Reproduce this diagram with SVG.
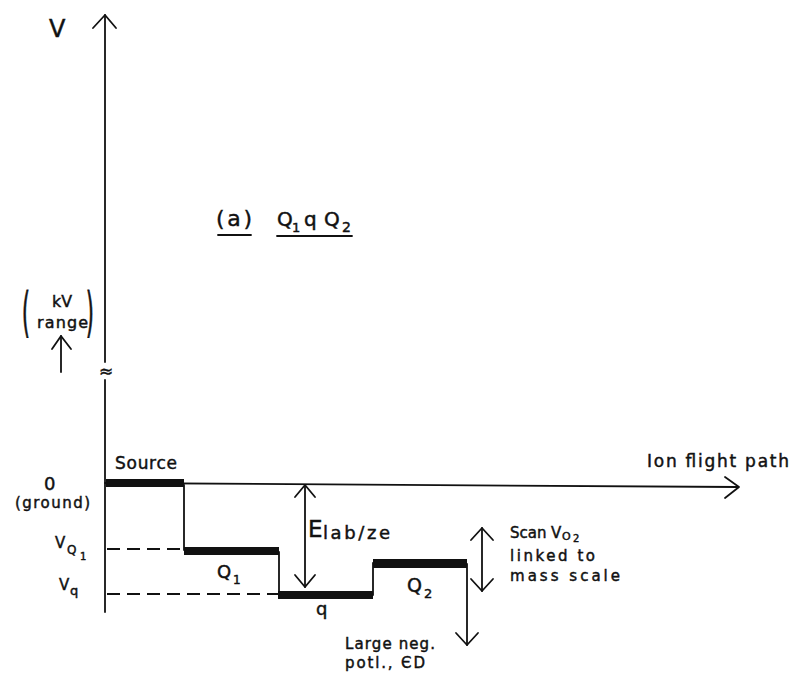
<svg xmlns="http://www.w3.org/2000/svg" width="791" height="673" viewBox="0 0 791 673">
<style>
  text { font-family: "DejaVu Sans", "Liberation Sans", sans-serif; fill: #111; stroke: #111; stroke-width: 0.45; }
  .ln { stroke: #111; stroke-width: 1.8; fill: none; stroke-linecap: round; stroke-linejoin: round; }
  .bar { fill: #111; }
  .dash { stroke: #111; stroke-width: 1.8; stroke-dasharray: 13 7; fill: none; }
</style>
<rect width="791" height="673" fill="#fff"/>

<g id="axes">
  <line class="ln" x1="105" y1="15" x2="105" y2="362"/>
  <line class="ln" x1="105" y1="380" x2="105" y2="612"/>
  <polyline class="ln" points="93,28 105,15 116,28"/>
  <text x="99" y="377" font-size="17">≈</text>
  <line class="ln" x1="105" y1="483" x2="738" y2="487"/>
  <polyline class="ln" points="725,477 739,487 725,498"/>
  <text x="49" y="37" font-size="24">V</text>
  <text x="647" y="467" font-size="17" textLength="142" lengthAdjust="spacing">Ion flight path</text>
</g>

<g id="kv-range">
  <text transform="translate(22,331) scale(1,2.7)" font-size="20">(</text>
  <text transform="translate(86,331) scale(1,2.7)" font-size="20">)</text>
  <text x="52" y="307" font-size="16" textLength="20" lengthAdjust="spacingAndGlyphs">kV</text>
  <text x="37" y="328" font-size="16" textLength="51" lengthAdjust="spacing">range</text>
  <line class="ln" x1="61" y1="336" x2="61" y2="372"/>
  <polyline class="ln" points="52,349 61,336 71,349"/>
</g>

<g id="title">
  <text x="216" y="226" font-size="22" textLength="36" lengthAdjust="spacing">(a)</text>
  <line class="ln" x1="218" y1="235" x2="251" y2="235" stroke-width="2.2"/>
  <text x="277" y="226" font-size="20">Q</text>
  <text x="292" y="232" font-size="13">1</text>
  <text x="304" y="226" font-size="20">q</text>
  <text x="324" y="226" font-size="20">Q</text>
  <text x="342" y="232" font-size="14">2</text>
  <line class="ln" x1="277" y1="236" x2="352" y2="236" stroke-width="2.2"/>
</g>

<g id="y-labels">
  <text x="44" y="490" font-size="18">0</text>
  <text x="15" y="508" font-size="15" textLength="75" lengthAdjust="spacing">(ground)</text>
  <text x="55" y="548" font-size="15">V</text>
  <text x="67" y="554" font-size="12">Q</text>
  <text x="80" y="560" font-size="10">1</text>
  <text x="59" y="590" font-size="15">V</text>
  <text x="70" y="595" font-size="13">q</text>
</g>

<g id="source">
  <rect class="bar" x="106" y="479" width="78" height="8"/>
  <text x="115" y="469" font-size="17" textLength="62" lengthAdjust="spacing">Source</text>
</g>

<g id="Q1">
  <rect class="bar" x="184" y="547" width="95" height="8"/>
  <text x="217" y="578" font-size="18">Q</text>
  <text x="233" y="584" font-size="12">1</text>
</g>

<g id="q">
  <rect class="bar" x="278" y="591" width="95" height="8"/>
  <text x="316" y="615" font-size="18">q</text>
</g>

<g id="Q2">
  <rect class="bar" x="373" y="559" width="94" height="9"/>
  <text x="407" y="592" font-size="19">Q</text>
  <text x="424" y="598" font-size="13">2</text>
</g>

<g id="connectors">
  <line class="ln" x1="184" y1="485" x2="184" y2="550"/>
  <line class="ln" x1="279" y1="552" x2="279" y2="595"/>
  <line class="ln" x1="373" y1="595" x2="373" y2="563"/>
  <line class="ln" x1="467" y1="564" x2="467" y2="645"/>
  <polyline class="ln" points="456,633 467,645 478,633"/>
  <line class="dash" x1="107" y1="549" x2="184" y2="549"/>
  <line class="dash" x1="107" y1="594" x2="279" y2="594"/>
  <line class="ln" x1="305" y1="485" x2="305" y2="587"/>
  <polyline class="ln" points="295,497 305,485 315,497"/>
  <polyline class="ln" points="295,575 305,587 315,575"/>
  <line class="ln" x1="482" y1="528" x2="482" y2="591"/>
  <polyline class="ln" points="471,540 482,528 493,540"/>
  <polyline class="ln" points="471,579 482,591 493,579"/>
</g>

<g id="e-lab-label">
  <text x="308" y="537" font-size="23">E</text>
  <text x="323" y="539" font-size="18" textLength="67" lengthAdjust="spacing">lab/ze</text>
</g>

<g id="scan-label">
  <text x="510" y="538" font-size="15">Scan</text>
  <text x="551" y="538" font-size="15">V</text>
  <text x="562" y="540" font-size="11">O</text>
  <text x="573" y="542" font-size="10">2</text>
  <text x="510" y="561" font-size="15" textLength="85" lengthAdjust="spacing">linked to</text>
  <text x="510" y="581" font-size="15" textLength="110" lengthAdjust="spacing">mass scale</text>
</g>

<g id="ed-label">
  <text x="345" y="649" font-size="15" textLength="90" lengthAdjust="spacing">Large neg.</text>
  <text x="345" y="668" font-size="15" textLength="80" lengthAdjust="spacing">potl., ЄD</text>
</g>
</svg>
